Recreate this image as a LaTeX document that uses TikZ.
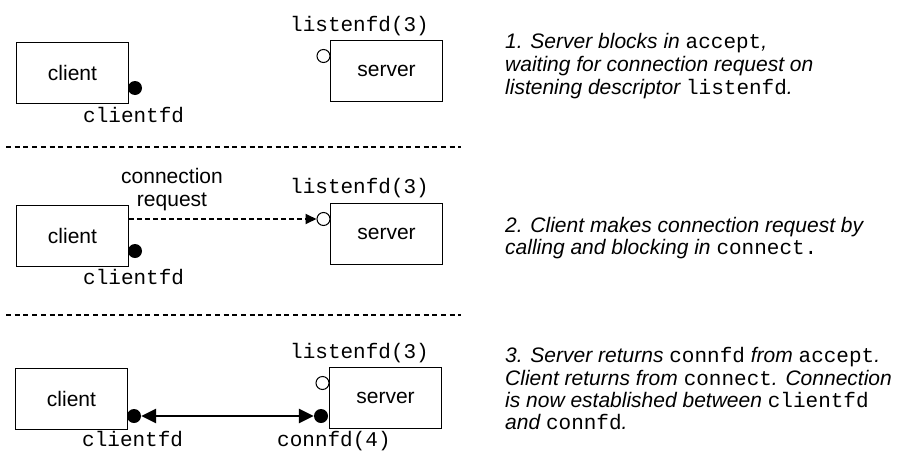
\documentclass[tikz,border=0pt]{standalone}
\usepackage{fontspec}
\setmainfont{Liberation Sans}
\setmonofont{Liberation Mono}
\usetikzlibrary{arrows.meta}
\tikzset{
  box/.style={draw, line width=1pt, minimum width=112pt, minimum height=61pt,
    inner sep=0pt, font=\fontsize{21}{25}\selectfont, anchor=north west},
  mono/.style={font=\fontsize{21}{25}\selectfont\ttfamily, inner sep=0pt, anchor=base west},
  lbl/.style={font=\fontsize{21}{25}\selectfont, inner sep=0pt, anchor=base},
  desc/.style={font=\fontsize{21}{23}\selectfont\itshape, inner sep=0pt, anchor=base west},
  fdot/.style={circle, fill=black, inner sep=0pt, minimum size=14pt},
  odot/.style={circle, draw, line width=1pt, fill=white, inner sep=0pt, minimum size=13pt},
  sepline/.style={line width=2pt, dash pattern=on 5pt off 3.7pt},
  req/.style={line width=1.8pt, dash pattern=on 5pt off 3pt,
    -{Triangle[length=11pt,width=10pt]}},
  conn/.style={line width=2.8pt,
    {Triangle[length=15pt,width=14pt]}-{Triangle[length=15pt,width=14pt]}}
}
\newcommand{\mt}[1]{{\upshape\ttfamily #1}}
\begin{document}
\begin{tikzpicture}[x=1pt,y=-1pt]
\useasboundingbox (0,0) rectangle (901,450);

% ---------- panel 1 ----------
\node[box] (c1) at (16,42) {client};
\node[box] (s1) at (330,40) {server};
\node[fdot] (d1) at (135,88) {};
\node[odot] (o1) at (323.5,56) {};
\node[mono] (l1) at (290,31) {listenfd(3)};
\node[mono] (cf1) at (83,122) {clientfd};
\node[desc] (t11) at (505,48) {1. Server blocks in \mt{accept},};
\node[desc] (t12) at (505,71) {waiting for connection request on};
\node[desc] (t13) at (505,94) {listening descriptor \mt{listenfd}.};

\coordinate (sa) at (6,147);
\coordinate (sb) at (461,147);
\draw[sepline] (sa) -- (sb);

% ---------- panel 2 ----------
\node[box] (c2) at (16,205) {client};
\node[box] (s2) at (330,203) {server};
\node[fdot] (d2) at (135,251) {};
\node[odot] (o2) at (323.5,219) {};
\node[mono] (l2) at (290,193) {listenfd(3)};
\node[mono] (cf2) at (83,284) {clientfd};
\node[lbl] (cr1) at (172,183) {connection};
\node[lbl] (cr2) at (172,206) {request};
\draw[req] (c2.east |- o2.west) -- (o2.west);
\node[desc] (t21) at (505,232) {2. Client makes connection request by};
\node[desc] (t22) at (505,254) {calling and blocking in \mt{connect.}};

\coordinate (sc) at (6,315);
\coordinate (sd) at (461,315);
\draw[sepline] (sc) -- (sd);

% ---------- panel 3 ----------
\node[box] (c3) at (15,368) {client};
\node[box] (s3) at (329,367) {server};
\node[odot] (o3) at (322.5,383) {};
\node[fdot] (d3c) at (134,416) {};
\node[fdot] (d3s) at (321,416) {};
\node[mono] (l3) at (290,358) {listenfd(3)};
\node[mono] (cf3) at (82,446) {clientfd};
\node[mono] (cn3) at (277,446) {connfd(4)};
\draw[conn] (d3c.east) -- (d3s.west);
\node[desc] (t31) at (505,362) {3. Server returns \mt{connfd} from \mt{accept}.};
\node[desc] (t32) at (505,385) {Client returns from \mt{connect}. Connection};
\node[desc] (t33) at (505,407) {is now established between \mt{clientfd}};
\node[desc] (t34) at (505,429) {and \mt{connfd}.};
\end{tikzpicture}
\end{document}
